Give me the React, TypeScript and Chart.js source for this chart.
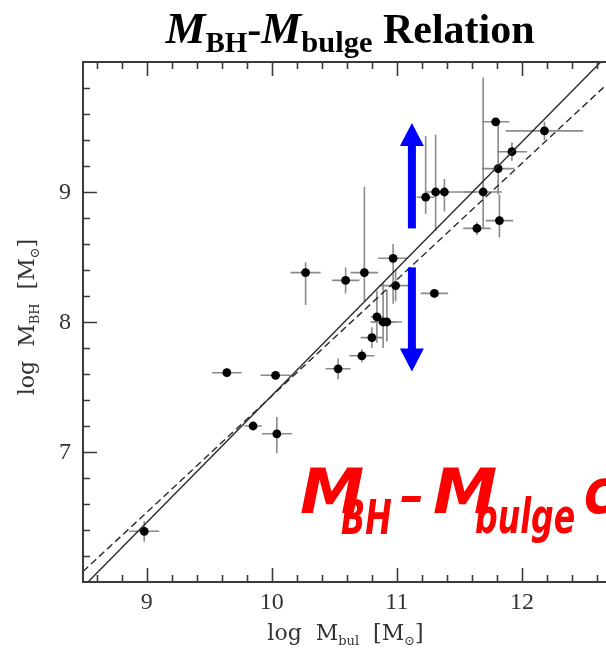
import { useEffect, useRef } from 'react';
import { Chart, registerables } from 'chart.js';
Chart.register(...registerables);

// ---- data ----
const bulgeMass = [8.98, 9.64, 10.03, 9.85, 10.04, 10.27, 10.59, 10.74, 10.53, 10.72, 10.8, 10.84, 10.89, 10.92, 10.97, 10.99, 11.3, 11.23, 11.31, 11.38, 11.64, 11.69, 11.79, 11.81, 11.82, 11.92, 12.18];
const bhMass = [6.39, 7.61, 7.59, 7.2, 7.14, 8.38, 8.32, 8.38, 7.64, 7.74, 7.88, 8.04, 8.0, 8.0, 8.49, 8.28, 8.22, 8.96, 9.0, 9.0, 8.72, 9.0, 9.54, 9.18, 8.78, 9.31, 9.47];
const bulgeErrLo = [0.12, 0.12, 0.12, 0.07, 0.12, 0.12, 0.11, 0.11, 0.1, 0.1, 0.09, 0.05, 0.1, 0.12, 0.12, 0.13, 0.11, 0.07, 0.08, 0.1, 0.11, 0.15, 0.11, 0.13, 0.11, 0.12, 0.31];
const bulgeErrHi = [0.12, 0.12, 0.12, 0.07, 0.12, 0.12, 0.11, 0.11, 0.1, 0.1, 0.09, 0.05, 0.1, 0.12, 0.12, 0.13, 0.11, 0.07, 0.08, 0.25, 0.11, 0.15, 0.11, 0.13, 0.11, 0.12, 0.31];
const bhErrLo = [0.08, 0.03, 0.03, 0.03, 0.15, 0.25, 0.1, 0.22, 0.08, 0.05, 0.08, 0.2, 0.2, 0.15, 0.35, 0.12, 0.03, 0.13, 0.3, 0.15, 0.05, 0.28, 0.03, 0.2, 0.13, 0.07, 0.07];
const bhErrHi = [0.08, 0.03, 0.03, 0.03, 0.13, 0.08, 0.1, 0.66, 0.08, 0.05, 0.08, 0.2, 0.3, 0.25, 0.11, 0.12, 0.03, 0.47, 0.44, 0.1, 0.05, 0.88, 0.03, 0.34, 0.2, 0.07, 0.07];

const solidFitX = [8.53, 12.63];
const solidFitY = [6.0, 10.0];
const dashedFitX = [8.49, 12.67];
const dashedFitY = [6.08, 9.82];

const arrowX = 11.12;
const upArrowY = [8.72, 9.53];
const downArrowY = [8.42, 7.62];

const xMajorTicks = [9, 10, 11, 12, 13];
const xTickLabels = ['9', '10', '11', '12', '13'];
const yMajorTicks = [7, 8, 9];
const yTickLabels = ['7', '8', '9'];
const xRange = [8.49, 13.0];
const yRange = [6, 10];

type Piece = { t: string; font: string; dy?: number; sx?: number };

function drawRich(ctx: CanvasRenderingContext2D, pieces: Piece[], cx: number, baseline: number) {
  let total = 0;
  const widths = pieces.map((p) => {
    ctx.font = p.font;
    const w = ctx.measureText(p.t).width * (p.sx ?? 1);
    total += w;
    return w;
  });
  let x = cx - total / 2;
  ctx.textAlign = 'left';
  ctx.textBaseline = 'alphabetic';
  pieces.forEach((p, i) => {
    ctx.font = p.font;
    ctx.save();
    ctx.translate(x, baseline + (p.dy ?? 0));
    ctx.scale(p.sx ?? 1, 1);
    ctx.fillText(p.t, 0, 0);
    ctx.restore();
    x += widths[i];
  });
}

function put(ctx: CanvasRenderingContext2D, t: string, font: string, px: number, py: number, sx: number) {
  ctx.save();
  ctx.font = font;
  ctx.textAlign = 'left';
  ctx.textBaseline = 'alphabetic';
  ctx.translate(px, py);
  ctx.scale(sx, 1);
  ctx.fillText(t, 0, 0);
  ctx.restore();
}

const decor = {
  id: 'decor',
  beforeDatasetsDraw(chart: any) {
    const { ctx, chartArea: a, scales } = chart;
    const x = scales.x, y = scales.y;
    ctx.save();
    ctx.beginPath();
    ctx.rect(a.left, a.top, a.right - a.left, a.bottom - a.top);
    ctx.clip();
    ctx.strokeStyle = '#8a8a8a';
    ctx.lineWidth = 1.6;
    for (let i = 0; i < bulgeMass.length; i++) {
      const px = x.getPixelForValue(bulgeMass[i]);
      const py = y.getPixelForValue(bhMass[i]);
      ctx.beginPath();
      ctx.moveTo(x.getPixelForValue(bulgeMass[i] - bulgeErrLo[i]), py);
      ctx.lineTo(x.getPixelForValue(bulgeMass[i] + bulgeErrHi[i]), py);
      ctx.moveTo(px, y.getPixelForValue(bhMass[i] - bhErrLo[i]));
      ctx.lineTo(px, y.getPixelForValue(bhMass[i] + bhErrHi[i]));
      ctx.stroke();
    }
    ctx.restore();
  },
  afterDatasetsDraw(chart: any) {
    const { ctx, scales } = chart;
    const x = scales.x, y = scales.y;
    const ax = x.getPixelForValue(arrowX);
    const shaftW = 8, headW = 24, headL = 23;
    ctx.save();
    ctx.fillStyle = '#0000ff';
    {
      const y0 = y.getPixelForValue(upArrowY[0]);
      const y1 = y.getPixelForValue(upArrowY[1]);
      ctx.fillRect(ax - shaftW / 2, y1 + headL - 1, shaftW, y0 - (y1 + headL - 1));
      ctx.beginPath();
      ctx.moveTo(ax, y1);
      ctx.lineTo(ax + headW / 2, y1 + headL);
      ctx.lineTo(ax - headW / 2, y1 + headL);
      ctx.closePath();
      ctx.fill();
    }
    {
      const y0 = y.getPixelForValue(downArrowY[0]);
      const y1 = y.getPixelForValue(downArrowY[1]);
      ctx.fillRect(ax - shaftW / 2, y0, shaftW, y1 - headL + 1 - y0);
      ctx.beginPath();
      ctx.moveTo(ax, y1);
      ctx.lineTo(ax + headW / 2, y1 - headL);
      ctx.lineTo(ax - headW / 2, y1 - headL);
      ctx.closePath();
      ctx.fill();
    }
    ctx.restore();
  },
  afterDraw(chart: any) {
    const { ctx, chartArea: a, scales } = chart;
    const x = scales.x, y = scales.y;
    ctx.save();
    // frame
    ctx.strokeStyle = '#3a3a3a';
    ctx.lineWidth = 2;
    ctx.strokeRect(a.left, a.top, a.right - a.left, a.bottom - a.top);
    // ticks
    ctx.lineWidth = 1.6;
    ctx.beginPath();
    for (let k = Math.ceil(xRange[0] * 5); k <= xRange[1] * 5; k++) {
      const len = k % 5 === 0 ? 14 : 7;
      const px = Math.round(x.getPixelForValue(k / 5)) + 0.5;
      ctx.moveTo(px, a.bottom); ctx.lineTo(px, a.bottom - len);
      ctx.moveTo(px, a.top); ctx.lineTo(px, a.top + len);
    }
    for (let k = Math.ceil(yRange[0] * 5) + 1; k < yRange[1] * 5; k++) {
      const len = k % 5 === 0 ? 14 : 7;
      const py = Math.round(y.getPixelForValue(k / 5)) + 0.5;
      ctx.moveTo(a.left, py); ctx.lineTo(a.left + len, py);
      ctx.moveTo(a.right, py); ctx.lineTo(a.right - len, py);
    }
    ctx.stroke();

    // tick labels
    ctx.fillStyle = '#333';
    ctx.font = '24px "Liberation Serif"';
    ctx.textAlign = 'center';
    ctx.textBaseline = 'middle';
    xMajorTicks.forEach((v, i) => {
      ctx.fillText(xTickLabels[i], x.getPixelForValue(v), a.bottom + 21);
    });
    ctx.textAlign = 'right';
    yMajorTicks.forEach((v, i) => {
      ctx.fillText(yTickLabels[i], a.left - 12, y.getPixelForValue(v) + 1);
    });

    // axis titles
    const f = '22px "DejaVu Serif"';
    const fs = '13px "DejaVu Serif"';
    ctx.fillStyle = '#333';
    drawRich(ctx, [
      { t: 'log  M', font: f },
      { t: 'bul', font: fs, dy: 5 },
      { t: '  [M', font: f },
      { t: '\u2299', font: fs, dy: 5 },
      { t: ']', font: f },
    ], (a.left + 606) / 2 + 1, 640);
    ctx.save();
    ctx.translate(34, 317);
    ctx.rotate(-Math.PI / 2);
    drawRich(ctx, [
      { t: 'log  M', font: f },
      { t: 'BH', font: fs, dy: 5 },
      { t: '  [M', font: f },
      { t: '\u2299', font: fs, dy: 5 },
      { t: ']', font: f },
    ], 0, 0);
    ctx.restore();

    // title
    ctx.fillStyle = '#000';
    const tM = 'italic bold 45px "Liberation Serif"';
    const tS = 'bold 29px "Liberation Serif"';
    const tN = 'bold 42px "Liberation Serif"';
    drawRich(ctx, [
      { t: 'M', font: tM },
      { t: 'BH', font: tS, dy: 9 },
      { t: '-', font: tN },
      { t: 'M', font: tM },
      { t: 'bulge', font: tS, dy: 9, sx: 1.05 },
      { t: ' Relation', font: tN },
    ], 350, 43);

    // red overlay text
    ctx.fillStyle = '#ff0000';
    const rBig = 'italic bold 62px "DejaVu Sans"';
    const rSub = 'italic bold 48px "DejaVu Sans"';
    put(ctx, 'M', rBig, 300, 513, 1.04);
    put(ctx, 'BH', rSub, 341, 534, 0.66);
    put(ctx, '\u2013', rSub, 400, 512, 1.0);
    put(ctx, 'M', rBig, 433, 513, 1.04);
    put(ctx, 'bulge', rSub, 475, 533, 0.66);
    put(ctx, 'correlation', rBig, 584, 513, 0.8);
    ctx.restore();
  },
};

export default function App() {
  const ref = useRef<HTMLCanvasElement>(null);
  useEffect(() => {
    if (!ref.current) return;
    const points = bulgeMass.map((v, i) => ({ x: v, y: bhMass[i] }));
    const solid = solidFitX.map((v, i) => ({ x: v, y: solidFitY[i] }));
    const dashed = dashedFitX.map((v, i) => ({ x: v, y: dashedFitY[i] }));
    const chart = new Chart(ref.current, {
      type: 'scatter',
      data: {
        datasets: [
          { label: 'fit', data: solid, showLine: true, borderColor: '#2a2a2a', borderWidth: 1.4, pointRadius: 0 },
          { label: 'fit2', data: dashed, showLine: true, borderColor: '#2a2a2a', borderWidth: 1.4, borderDash: [7, 4], pointRadius: 0 },
          { label: 'galaxies', data: points, pointRadius: 4.4, pointBackgroundColor: '#000', pointBorderColor: '#000', pointBorderWidth: 0 },
        ],
      },
      options: {
        responsive: false,
        animation: false,
        devicePixelRatio: 1,
        layout: { padding: { left: 83, top: 62, right: 13, bottom: 70 } },
        plugins: { legend: { display: false }, tooltip: { enabled: false }, title: { display: false } },
        scales: {
          x: { type: 'linear', min: xRange[0], max: xRange[1], display: false },
          y: { type: 'linear', min: yRange[0], max: yRange[1], display: false },
        },
      },
      plugins: [decor],
    });
    return () => chart.destroy();
  }, []);
  return (
    <div style={{ position: 'absolute', left: 0, top: 0, width: 606, height: 652, overflow: 'hidden', background: '#fff' }}>
      <canvas ref={ref} width={660} height={652} style={{ display: 'block' }} />
    </div>
  );
}
